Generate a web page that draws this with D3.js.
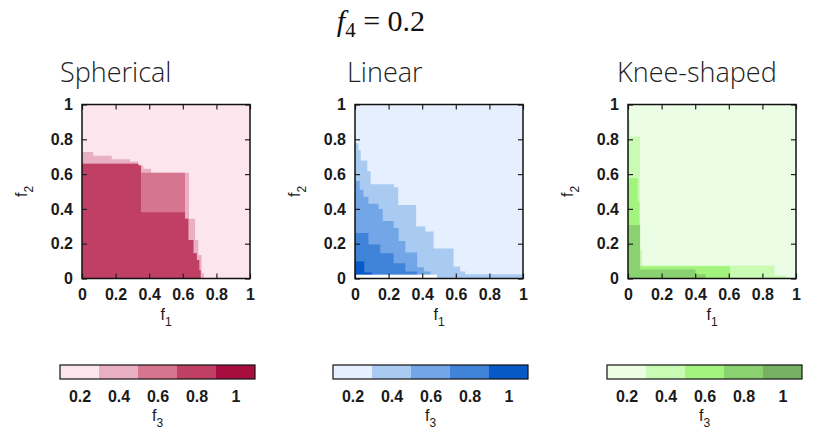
<!DOCTYPE html>
<html>
<head>
<meta charset="utf-8">
<script src="https://cdn.jsdelivr.net/npm/d3@7"></script>
<style>
  html, body { margin: 0; padding: 0; background: #fff; }
  svg { display: block; }
</style>
</head>
<body>
<svg id="chart" width="816" height="431"></svg>
<script>
// ---- data -------------------------------------------------------------
const panelTitles = ["Spherical", "Linear", "Knee-shaped"];
const axisTicks = [0, 0.2, 0.4, 0.6, 0.8, 1];
const colorbarTicks = [0.2, 0.4, 0.6, 0.8, 1];
const colorbarBins = [0.1, 0.3, 0.5, 0.7, 0.9, 1.1];

// five f3 classes per front shape (0.2 .. 1)
const sphericalColors = ["#fde5ee", "#e9b0c4", "#d6758f", "#bf4064", "#a70d3e"];
const linearColors    = ["#e5effd", "#a9cbf2", "#73a6e6", "#3f84d9", "#0659c7"];
const kneeColors      = ["#ecfde6", "#c9fbb4", "#a2f47d", "#8ad16f", "#76b062"];

// attainment staircases: each step is [f1 where the step ends, f2 height]
const sphericalL2 = [[0.067, 0.727], [0.177, 0.706], [0.286, 0.685], [0.335, 0.673],
  [0.365, 0.650], [0.411, 0.631], [0.637, 0.608], [0.673, 0.343], [0.692, 0.221],
  [0.712, 0.135], [0.726, 0.030]];
const sphericalL3 = [[0.335, 0.660], [0.351, 0.650], [0.613, 0.608], [0.633, 0.343],
  [0.663, 0.221], [0.683, 0.145], [0.698, 0.107], [0.706, 0.048]];
const sphericalL4 = [[0.335, 0.660], [0.351, 0.650], [0.613, 0.381], [0.633, 0.343],
  [0.663, 0.221], [0.683, 0.145], [0.698, 0.107], [0.706, 0.048]];

const linearL2 = [[0.020, 0.778], [0.034, 0.739], [0.073, 0.678], [0.093, 0.617],
  [0.231, 0.542], [0.257, 0.525], [0.364, 0.423], [0.419, 0.299], [0.468, 0.270],
  [0.587, 0.172], [0.626, 0.069], [0.656, 0.040], [1.000, 0.025]];
const linearL3 = [[0.028, 0.560], [0.050, 0.510], [0.080, 0.470], [0.140, 0.430],
  [0.165, 0.400], [0.230, 0.330], [0.260, 0.290], [0.300, 0.215], [0.370, 0.150],
  [0.410, 0.065], [0.450, 0.040]];
const linearL4 = [[0.080, 0.262], [0.150, 0.195], [0.230, 0.145], [0.300, 0.087],
  [0.370, 0.040]];
const linearL5 = [[0.055, 0.098], [0.100, 0.035]];
// uncovered band along the f1 axis: [f1 from, f1 to, f2 from, f2 to]
const linearEmpty = [[0, 0.488, 0, 0.022]];

const kneeL2 = [[0.012, 0.912], [0.072, 0.816], [0.084, 0.165], [0.872, 0.075],
  [0.942, 0.017]];
const kneeL3 = [[0.058, 0.577], [0.068, 0.443], [0.608, 0.071]];
const kneeL4 = [[0.072, 0.308], [0.402, 0.052], [0.462, 0.025]];

const panels = [
  { title: panelTitles[0], colors: sphericalColors,
    levels: [sphericalL2, sphericalL3, sphericalL4], empty: [] },
  { title: panelTitles[1], colors: linearColors,
    levels: [linearL2, linearL3, linearL4, linearL5], empty: linearEmpty },
  { title: panelTitles[2], colors: kneeColors,
    levels: [kneeL2, kneeL3, kneeL4], empty: [] }
];

// ---- layout -----------------------------------------------------------
const plotLefts = [82, 355, 628];
const plotW = 168, plotTop = 104.5, plotBottom = 278.5;
const barLefts = [60, 333, 607];
const barW = 195, barTop = 365, barH = 14;
const titleX = [60, 347, 617];

const svg = d3.select("#chart");
const tickFont = "'Liberation Sans', Arial, sans-serif";
const fmt = d3.format("~g");

// overall heading: f_4 = 0.2
const head = svg.append("text")
  .attr("x", 381).attr("y", 31)
  .attr("text-anchor", "middle")
  .style("font-family", "'Liberation Serif', 'Times New Roman', serif")
  .style("font-size", "30px")
  .attr("fill", "#111");
head.append("tspan").style("font-style", "italic").text("f");
head.append("tspan").attr("dy", 6).style("font-size", "21px").text("4");
head.append("tspan").attr("dy", -6).text(" = 0.2");

function stairPoints(steps) {
  const pts = [[0, 0]];
  let x0 = 0;
  steps.forEach(([xe, y]) => { pts.push([x0, y], [xe, y]); x0 = xe; });
  pts.push([x0, 0]);
  return pts;
}

function subLabel(g, main, sub, size) {
  const t = g.append("text")
    .style("font-family", tickFont)
    .style("font-size", size + "px")
    .attr("fill", "#1a1a1a");
  t.append("tspan").text(main);
  t.append("tspan").attr("dy", size * 0.35).style("font-size", (size * 0.75) + "px").text(sub);
  return t;
}

panels.forEach((p, i) => {
  const left = plotLefts[i];
  const xs = d3.scaleLinear().domain([0, 1]).range([left, left + plotW]);
  const ys = d3.scaleLinear().domain([0, 1]).range([plotBottom, plotTop]);
  const g = svg.append("g");

  // panel heading
  g.append("text")
    .attr("x", titleX[i]).attr("y", 82)
    .style("font-family", "'Open Sans', sans-serif")
    .style("font-weight", 300)
    .style("font-size", "27px")
    .attr("fill", "#222")
    .text(p.title);

  // lowest class covers the whole region
  g.append("rect")
    .attr("x", xs(0)).attr("y", ys(1))
    .attr("width", xs(1) - xs(0)).attr("height", ys(0) - ys(1))
    .attr("fill", p.colors[0]);

  const line = d3.line().x(d => xs(d[0])).y(d => ys(d[1]));
  p.levels.forEach((steps, k) => {
    g.append("path")
      .attr("d", line(stairPoints(steps)) + "Z")
      .attr("fill", p.colors[k + 1]);
  });

  p.empty.forEach(([a, b, c, d]) => {
    g.append("rect")
      .attr("x", xs(a)).attr("y", ys(d))
      .attr("width", xs(b) - xs(a)).attr("height", ys(c) - ys(d))
      .attr("fill", "#fff");
  });

  // mirrored inward ticks
  const styleAxis = sel => {
    sel.select(".domain").remove();
    sel.selectAll("line").attr("stroke", "#222").attr("stroke-width", 1.2);
    sel.selectAll("text")
      .style("font-family", tickFont)
      .style("font-size", "16px")
      .style("font-weight", "bold")
      .attr("fill", "#1a1a1a");
  };
  g.append("g").attr("transform", `translate(0,${plotBottom})`)
    .call(d3.axisBottom(xs).tickValues(axisTicks).tickSize(-5).tickPadding(10).tickFormat(fmt))
    .call(styleAxis);
  g.append("g").attr("transform", `translate(0,${plotTop})`)
    .call(d3.axisTop(xs).tickValues(axisTicks).tickSize(-5).tickFormat(""))
    .call(styleAxis);
  g.append("g").attr("transform", `translate(${left},0)`)
    .call(d3.axisLeft(ys).tickValues(axisTicks).tickSize(-5).tickPadding(9).tickFormat(fmt))
    .call(styleAxis);
  g.append("g").attr("transform", `translate(${left + plotW},0)`)
    .call(d3.axisRight(ys).tickValues(axisTicks).tickSize(-5).tickFormat(""))
    .call(styleAxis);

  g.append("rect")
    .attr("x", xs(0)).attr("y", ys(1))
    .attr("width", xs(1) - xs(0)).attr("height", ys(0) - ys(1))
    .attr("fill", "none").attr("stroke", "#111").attr("stroke-width", 1.5);

  // axis titles
  subLabel(g, "f", "1", 16)
    .attr("x", xs(0.5)).attr("y", 320).attr("text-anchor", "middle");
  subLabel(g, "f", "2", 16)
    .attr("text-anchor", "middle")
    .attr("transform", `translate(${left - 55},${ys(0.5)}) rotate(-90)`);

  // colour bar
  const bx = d3.scaleLinear().domain([colorbarBins[0], colorbarBins[5]])
    .range([barLefts[i], barLefts[i] + barW]);
  const bins = d3.pairs(colorbarBins);
  g.selectAll(".bin").data(bins).join("rect")
    .attr("x", d => bx(d[0])).attr("y", barTop)
    .attr("width", d => bx(d[1]) - bx(d[0])).attr("height", barH)
    .attr("fill", (d, k) => p.colors[k]);
  g.append("rect")
    .attr("x", bx(colorbarBins[0])).attr("y", barTop)
    .attr("width", barW).attr("height", barH)
    .attr("fill", "none").attr("stroke", "#111").attr("stroke-width", 1.2);
  g.append("g").attr("transform", `translate(0,${barTop + barH})`)
    .call(d3.axisBottom(bx).tickValues(colorbarTicks).tickSize(0).tickPadding(12).tickFormat(fmt))
    .call(styleAxis);
  subLabel(g, "f", "3", 16)
    .attr("x", barLefts[i] + barW / 2).attr("y", 421).attr("text-anchor", "middle");
});
</script>
</body>
</html>
